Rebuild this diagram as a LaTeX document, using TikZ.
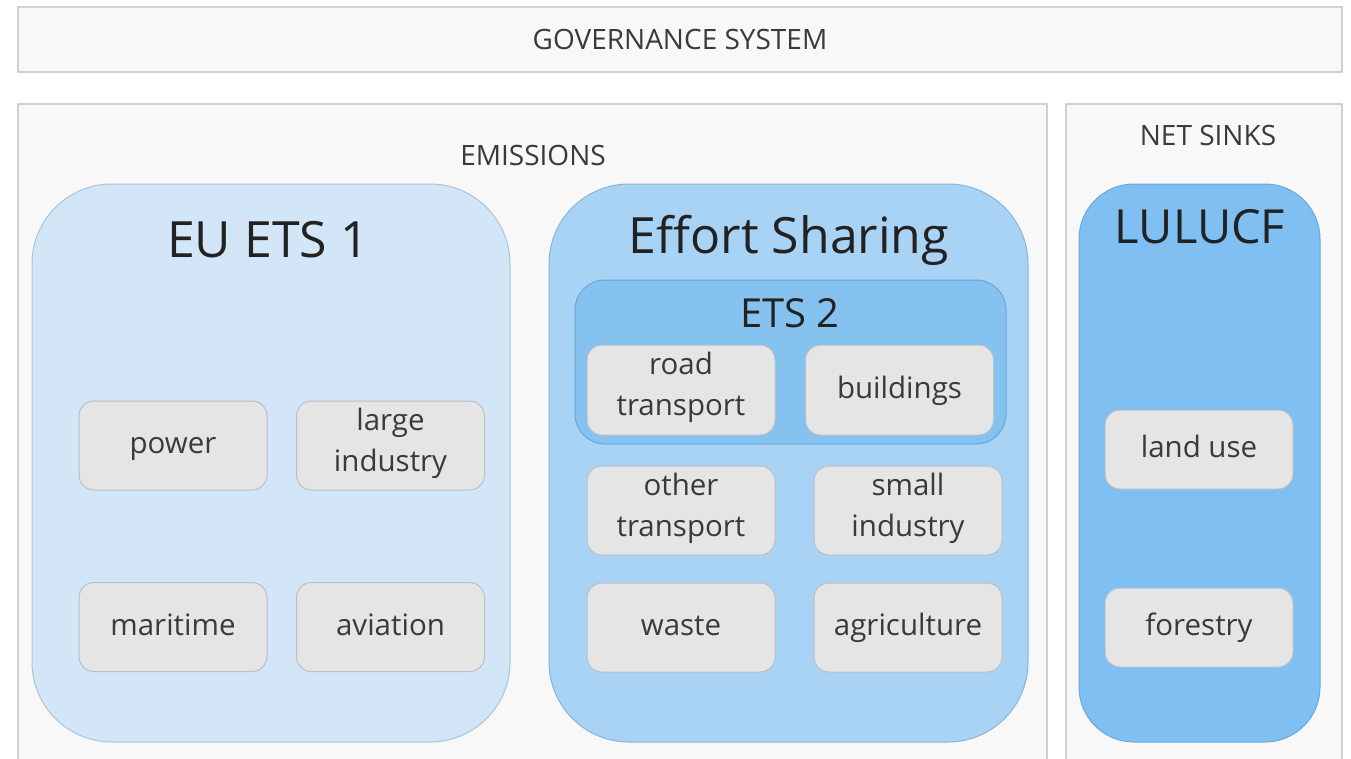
\documentclass[tikz,border=0pt]{standalone}
\usepackage{fontspec}
\setmainfont{Open Sans}
\definecolor{outerfill}{HTML}{F8F8F8}
\definecolor{outerline}{HTML}{D0D0D0}
\definecolor{etsfill}{HTML}{D2E6F7}
\definecolor{etsline}{HTML}{A8C4DC}
\definecolor{esfill}{HTML}{A9D3F5}
\definecolor{esline}{HTML}{8AB4D8}
\definecolor{etstwofill}{HTML}{86C2F0}
\definecolor{etstwoline}{HTML}{6AA6D6}
\definecolor{lulfill}{HTML}{7FBFF1}
\definecolor{lulline}{HTML}{6AA8DA}
\definecolor{itemfill}{HTML}{E5E5E5}
\definecolor{itemline}{HTML}{B8C0C8}
\definecolor{txt}{HTML}{3A3A3A}
\definecolor{titletxt}{HTML}{222222}
\tikzset{
  outerbox/.style={draw=outerline, line width=2pt, fill=outerfill},
  itembox/.style={draw=itemline, line width=1pt, fill=itemfill, rounded corners=15pt,
    minimum width=188pt, minimum height=89pt, align=center, text=txt,
    inner sep=0pt, font=\fontsize{29.5}{41}\selectfont,
    execute at begin node=\strut, execute at end node=\strut},
  bigbox/.style={line width=1pt, rounded corners=80pt, minimum width=478pt,
    minimum height=558pt, inner sep=0pt},
  bigtitle/.style={text=titletxt, font=\fontsize{50}{58}\selectfont, inner sep=0pt},
  smalltitle/.style={text=txt, font=\fontsize{28}{32}\selectfont, inner sep=0pt},
}
\begin{document}
\begin{tikzpicture}[x=1pt,y=-1pt]
\useasboundingbox (0,0) rectangle (1351,758);
\clip (0,0) rectangle (1351,758);
\fill[white] (0,0) rectangle (1351,758);

% governance
\node[outerbox, minimum width=1324pt, minimum height=65pt, inner sep=0pt,
  text=txt, font=\fontsize{28}{32}\selectfont] (gov) at (680,39.5) {GOVERNANCE SYSTEM};

% outer containers
\draw[outerbox] (18,104) rectangle (1047,775);
\draw[outerbox] (1066,104) rectangle (1342,775);
\node[smalltitle] (emis) at (533,155) {EMISSIONS};
\node[smalltitle] (sinks) at (1208,135) {NET SINKS};

% big boxes
\node[bigbox, draw=etsline, fill=etsfill] (ets1) at (271,463) {};
\node[bigbox, draw=esline, fill=esfill, minimum width=479pt] (es) at (788.5,463) {};
\node[draw=lulline, fill=lulfill, line width=1pt, rounded corners=55pt,
  minimum width=241pt, minimum height=558pt, inner sep=0pt] (lul) at (1199.5,463) {};
\node[draw=etstwoline, fill=etstwofill, line width=1pt, rounded corners=30pt,
  minimum width=431pt, minimum height=164pt, inner sep=0pt] (ets2) at (790.5,362) {};

% titles
\node[bigtitle] (t1) at (268,240) {EU ETS 1};
\node[bigtitle] (t2) at (789,240) {Effort Sharing};
\node[bigtitle, font=\fontsize{47}{54}\selectfont] (t3) at (1200,227) {LULUCF};
\node[text=titletxt, font=\fontsize{40}{46}\selectfont, inner sep=0pt] (t4) at (790,313) {ETS 2};

% EU ETS 1 items
\node[itembox] (power) at (173,445.5) {power};
\node[itembox] (large) at (390.5,445.5) {large\\industry};
\node[itembox] (mari) at (173,627) {maritime};
\node[itembox] (avia) at (390.5,627) {aviation};

% Effort sharing items
\node[itembox, minimum height=90pt] (road) at (681,390) {road\\transport};
\node[itembox, minimum height=90pt] (build) at (899.5,390) {buildings};
\node[itembox] (other) at (681,510.5) {other\\transport};
\node[itembox] (small) at (908,510.5) {small\\industry};
\node[itembox] (waste) at (681,627.5) {waste};
\node[itembox] (agri) at (908,627.5) {agriculture};

% LULUCF items
\node[itembox, minimum height=79pt] (land) at (1199,449.5) {land use};
\node[itembox, minimum height=79pt] (forest) at (1199,627.5) {forestry};
\end{tikzpicture}
\end{document}
